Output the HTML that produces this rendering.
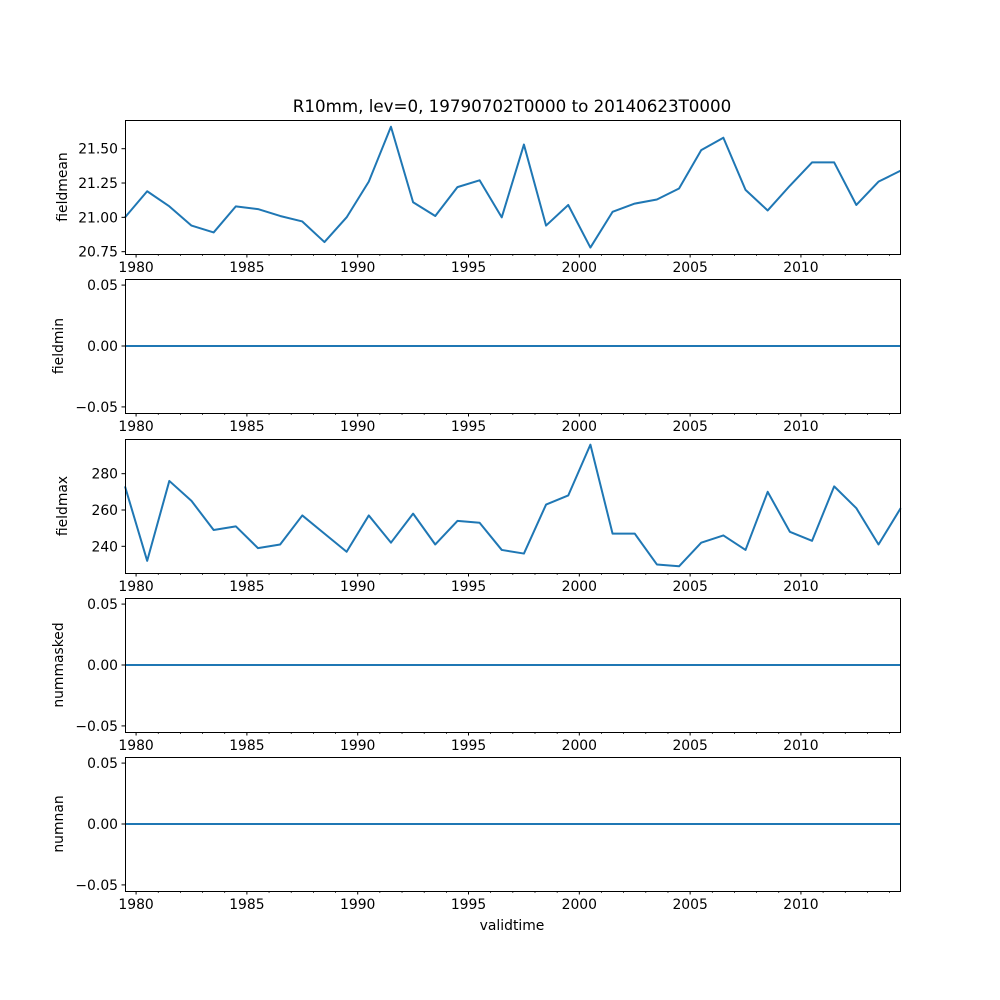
<!DOCTYPE html>
<html><head><meta charset="utf-8"><style>
body{margin:0;background:#fff}
svg{display:block;font-family:"DejaVu Sans","Liberation Sans",sans-serif}
</style></head><body>
<svg id="c" width="1000" height="1000"></svg>
<script>
const years=[1979,1980,1981,1982,1983,1984,1985,1986,1987,1988,1989,1990,1991,1992,1993,1994,1995,1996,1997,1998,1999,2000,2001,2002,2003,2004,2005,2006,2007,2008,2009,2010,2011,2012,2013,2014];
const fieldmean=[21.00,21.19,21.08,20.94,20.89,21.08,21.06,21.01,20.97,20.82,21.00,21.26,21.66,21.11,21.01,21.22,21.27,21.00,21.53,20.94,21.09,20.78,21.04,21.10,21.13,21.21,21.49,21.58,21.20,21.05,21.23,21.40,21.40,21.09,21.26,21.34];
const fieldmin=years.map(()=>0);
const fieldmax=[273,232,276,265,249,251,239,241,257,247,237,257,242,258,241,254,253,238,236,263,268,296,247,247,230,229,242,246,238,270,248,243,273,261,241,261];
const nummasked=years.map(()=>0);
const numnan=years.map(()=>0);
const xTickYears=[1980,1985,1990,1995,2000,2005,2010];
const meanTicks=[20.75,21.00,21.25,21.50];
const maxTicks=[240,260,280];
const zeroTicks=[-0.05,0.00,0.05];

const NS="http://www.w3.org/2000/svg";
const svg=document.getElementById('c');
function el(t,a,p){const e=document.createElementNS(NS,t);for(const k in a)e.setAttribute(k,a[k]);(p||svg).appendChild(e);return e;}
const L=125,R=900;
const x0=1979.5,x1=2014.47;
const X=v=>L+(v-x0)/(x1-x0)*(R-L);
const FS=13.9;

const t=el('text',{x:512,y:112,'text-anchor':'middle','font-size':16.7,fill:'#000'});


t.textContent='R10mm, lev=0, 19790702T0000 to 20140623T0000';

const panels=[
 {name:'fieldmean',data:fieldmean,top:120,bot:254,min:20.733,max:21.709,ticks:meanTicks,fmt:v=>v.toFixed(2)},
 {name:'fieldmin',data:fieldmin,top:279,bot:413,min:-0.055,max:0.055,ticks:zeroTicks,fmt:v=>v.toFixed(2)},
 {name:'fieldmax',data:fieldmax,top:439,bot:573,min:225.3,max:299.1,ticks:maxTicks,fmt:v=>String(v)},
 {name:'nummasked',data:nummasked,top:598,bot:732,min:-0.055,max:0.055,ticks:zeroTicks,fmt:v=>v.toFixed(2)},
 {name:'numnan',data:numnan,top:757,bot:891,min:-0.055,max:0.055,ticks:zeroTicks,fmt:v=>v.toFixed(2)}
];
panels.forEach(p=>{
 const g=el('g',{});
 
 
 const Y=v=>p.bot-(v-p.min)/(p.max-p.min)*(p.bot-p.top);
 const pts=years.map((y,i)=>X(y+0.5)+','+Y(p.data[i])).join(' ');
 const line=el('polyline',{points:pts,fill:'none',stroke:'#1f77b4','stroke-width':2,'stroke-linejoin':'round'},g);
 
 
 const fr=el('rect',{x:L+0.5,y:p.top+0.5,width:R-L,height:p.bot-p.top,fill:'none',stroke:'#000','stroke-width':1},g);
 
 
 p.ticks.forEach(v=>{
  const yy=Y(v);
  el('line',{x1:L-3.5,x2:L,y1:yy,y2:yy,stroke:'#000','stroke-width':1},g);
  const tl=el('text',{x:L-7,y:yy+5,'text-anchor':'end','font-size':FS,fill:'#000'},g);
  
  
  tl.textContent=p.fmt(v).replace('-','\u2212');
 });
 for(let y=1980;y<=2014;y++){
  const major=xTickYears.includes(y);
  const xx=X(y);
  el('line',{x1:xx,x2:xx,y1:p.bot,y2:p.bot+(major?3.5:2),stroke:'#000','stroke-width':major?1:0.7},g);
 }
 xTickYears.forEach(y=>{
  const tl=el('text',{x:X(y),y:p.bot+18,'text-anchor':'middle','font-size':FS,fill:'#000'},g);
  
  
  tl.textContent=String(y);
 });
 const cy=(p.top+p.bot)/2;
 const yl=el('text',{x:0,y:0,'text-anchor':'middle','font-size':FS,fill:'#000',transform:`translate(${p.name==='fieldmean'||p.name==='fieldmax'?67:63},${cy}) rotate(-90)`},g);
 
 
 yl.textContent=p.name;
});
const xl=el('text',{x:512,y:930,'text-anchor':'middle','font-size':FS,fill:'#000'});


xl.textContent='validtime';
</script>
</body></html>
